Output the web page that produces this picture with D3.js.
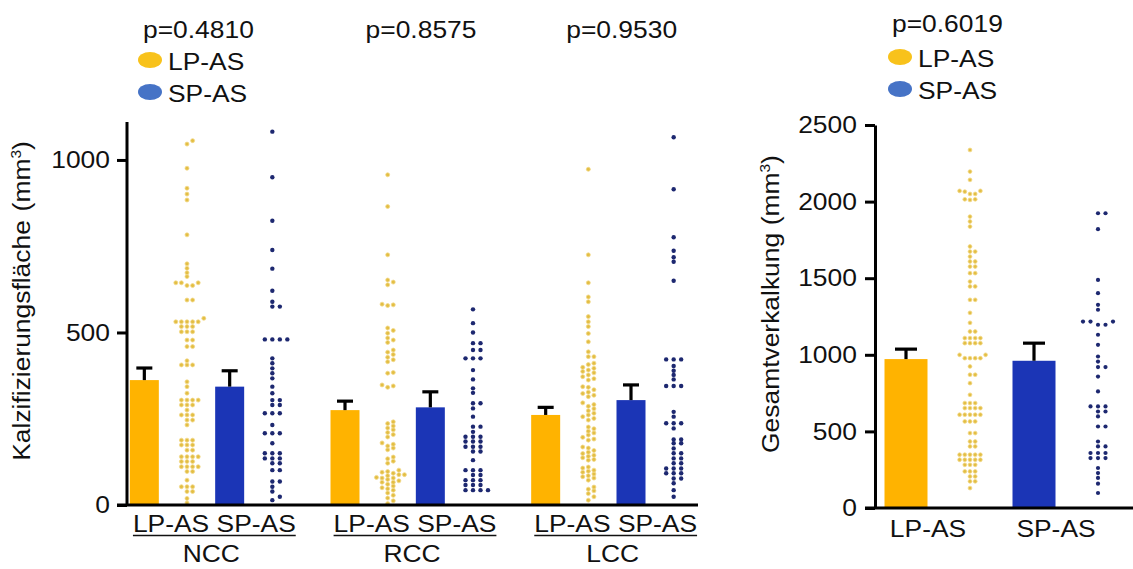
<!DOCTYPE html>
<html>
<head>
<meta charset="utf-8">
<script src="https://cdn.jsdelivr.net/npm/d3@7"></script>
<style>
  html,body{margin:0;padding:0;background:#fff;}
  svg{display:block;}
</style>
</head>
<body>
<svg id="svg" width="1133" height="569"></svg>
<script>
// ---- data ----
const groups = ["NCC","RCC","LCC"];
const series = ["LP-AS","SP-AS"];
const groupP = ["p=0.4810","p=0.8575","p=0.9530"];

// bar means and top of error bar (mm3), per group: [LP-AS, SP-AS]
const areaMean = [[362,343],[275,283],[261,304]];
const areaErrTop = [[397,389],[301,328],[283,348]];

const nccLP = [1056,1046,976,918,901,884,783,699,686,673,662,644,644,644,636,636,594,594,541,531,531,531,531,531,517,517,517,502,502,502,478,478,459,459,418,406,406,406,357,343,324,304,304,304,304,290,290,290,275,261,261,261,246,246,232,188,188,188,174,174,174,159,159,140,140,140,140,126,126,126,111,111,111,111,97,97,72,53,53,53,39,39,19,6];
const nccSP = [1082,950,824,739,685,621,589,575,575,480,480,480,480,425,411,396,382,367,343,324,304,304,290,290,266,266,266,232,208,208,208,179,150,150,150,135,135,135,121,121,101,101,68,68,53,39,24,14];
const rccLP = [957,865,725,652,646,638,582,580,578,513,506,498,484,478,471,449,443,436,428,421,415,384,382,348,345,341,241,236,229,223,218,210,204,197,180,176,171,165,160,139,134,127,121,101,97,95,92,88,88,85,80,78,78,74,70,66,66,60,55,50,47,43,35,28,20,12,4];
const rccSP = [567,527,500,469,469,449,449,425,425,425,391,364,338,325,295,295,280,256,227,227,212,198,198,198,184,184,184,169,169,169,155,155,130,101,101,101,87,87,72,72,72,58,58,58,43,43,43,43];
const lccLP = [973,725,644,603,589,546,531,517,497,473,444,430,430,411,407,399,396,391,387,383,377,372,366,362,343,341,334,327,323,318,314,296,291,286,279,273,266,261,256,251,246,226,221,214,209,203,196,191,188,168,165,158,153,149,144,141,137,132,130,110,107,101,98,95,90,85,82,78,72,52,46,41,33,24,14];
const lccSP = [1066,915,776,737,718,705,650,422,422,422,403,389,377,364,345,345,345,270,256,237,237,237,222,190,190,179,179,164,150,150,135,135,121,121,106,106,106,92,92,92,77,77,63,43,24];
const areaDots = [[nccLP,nccSP],[rccLP,rccSP],[lccLP,lccSP]];

// total calcification
const totalP = "p=0.6019";
const totalMean = [972,961];
const totalErrTop = [1037,1076];
const totLP = [2337,2196,2142,2070,2070,2065,2050,2050,2015,2015,2011,1902,1870,1837,1707,1674,1674,1641,1609,1609,1576,1576,1533,1533,1478,1446,1446,1359,1359,1274,1209,1152,1152,1109,1109,1109,1109,1076,1076,1076,1076,1000,1000,978,978,978,978,924,870,870,815,739,685,685,685,652,652,652,652,609,609,609,609,609,565,565,565,489,489,434,434,402,402,348,348,348,348,348,315,315,315,315,315,282,282,282,239,239,239,206,206,174,174,130];
const totSP = [1924,1924,1820,1489,1402,1326,1294,1217,1217,1217,1196,1196,1131,1065,989,956,920,920,858,761,663,663,663,630,630,598,532,532,434,402,402,359,359,359,326,326,326,261,228,196,159,98];
const totalDots = [totLP,totSP];

const areaTicks = [0,500,1000];
const totalTicks = [0,500,1000,1500,2000,2500];

// ---- styles ----
const FONT = "'Liberation Sans', Arial, sans-serif";
const FS = 24, SX = 1.1;
const barColor = {"LP-AS":"#FFB300","SP-AS":"#1B35B6"};
const dotColor = {"LP-AS":"#E3BE44","SP-AS":"#1D2870"};
const legColor = {"LP-AS":"#F8C21B","SP-AS":"#4673C6"};

const svg = d3.select("#svg");
svg.append("rect").attr("width",1133).attr("height",569).attr("fill","#fff");

// text that is slightly wider than the font (as in the figure)
function label(g, x, y, s, anchor){
  return g.append("text")
    .attr("transform", `translate(${x},${y}) scale(${SX},1)`)
    .attr("text-anchor", anchor||"start")
    .attr("font-family", FONT).attr("font-size", FS).attr("fill","#111")
    .text(s);
}

// simple column beeswarm: prefer the centre, step sideways on collision
function swarm(values, y, dx, dy){
  const placed = [];
  [...values].sort((a,b)=>a-b).forEach(v=>{
    const py = y(v);
    for(let i=0;i<30;i++){
      const k = i===0 ? 0 : (i%2 ? (i+1)/2 : -i/2);
      if(!placed.some(p=>p.k===k && Math.abs(p.y-py)<dy)){
        placed.push({v, k, x:k*dx, y:py});
        break;
      }
    }
  });
  return placed;
}

function legend(g, x, y){
  series.forEach((s,i)=>{
    const cy = y + i*32;
    g.append("ellipse").attr("cx",x).attr("cy",cy).attr("rx",12).attr("ry",8).attr("fill",legColor[s]);
    label(g, x+18, cy+10, s);
  });
}

function styleAxis(ax){
  ax.attr("font-family", FONT).attr("font-size", FS);
  ax.select(".domain").attr("stroke","#000").attr("stroke-width",3);
  ax.selectAll(".tick line").attr("stroke","#000").attr("stroke-width",3);
  ax.selectAll(".tick text").attr("fill","#111").attr("transform",`scale(${SX},1)`);
}

function errBar(g, x, yTop, yErr, half){
  g.append("line").attr("x1",x).attr("x2",x).attr("y1",yTop).attr("y2",yErr)
    .attr("stroke","#000").attr("stroke-width",3.2);
  g.append("line").attr("x1",x-half).attr("x2",x+half).attr("y1",yErr).attr("y2",yErr)
    .attr("stroke","#000").attr("stroke-width",3.2);
}

// ================= left panel =================
const gL = svg.append("g");
const yL = d3.scaleLinear().domain([0,1110]).range([505,122]);
const xG = d3.scaleBand().domain(groups).range([108,710]);
const xS = d3.scalePoint().domain(["LP-AS|bar","LP-AS|dots","SP-AS|bar","SP-AS|dots"]).range([-64,64]);
const gc = g => xG(g) + xG.bandwidth()/2;

groups.forEach((grp,gi)=>{
  series.forEach((s,si)=>{
    const bx = gc(grp) + xS(s+"|bar");
    gL.append("rect")
      .attr("x", bx-14.5).attr("width", 29)
      .attr("y", yL(areaMean[gi][si])).attr("height", yL(0)-yL(areaMean[gi][si]))
      .attr("fill", barColor[s]);
    errBar(gL, bx, yL(areaMean[gi][si]), yL(areaErrTop[gi][si]), 8);

    const dx0 = gc(grp) + xS(s+"|dots");
    const pts = swarm(areaDots[gi][si], yL, s==="LP-AS" ? 5.6 : 7.5, 3.6);
    gL.append("g").selectAll("circle").data(pts).enter().append("circle")
      .attr("cx", d=>dx0+d.x).attr("cy", d=>d.y)
      .attr("r", s==="LP-AS" ? 2.0 : 2.2)
      .attr("fill", dotColor[s])
      .attr("stroke", s==="LP-AS" ? "#F3D98A" : "none").attr("stroke-width",0.8);
  });

  // category labels with underline
  const t = label(gL, gc(grp)+6, 532, series.join(" "), "middle");
  const w = t.node().getComputedTextLength()*SX;
  gL.append("line").attr("x1",gc(grp)+6-w/2).attr("x2",gc(grp)+6+w/2)
    .attr("y1",535.5).attr("y2",535.5).attr("stroke","#111").attr("stroke-width",1.3);
  label(gL, gc(grp)+3, 562, grp, "middle");

  // p values
  if(gi===0) label(gL, 143, 38, groupP[gi]);
  else label(gL, gc(grp)+12, 38, groupP[gi], "middle");
});

gL.append("line").attr("x1",117).attr("x2",698).attr("y1",yL(0)).attr("y2",yL(0))
  .attr("stroke","#000").attr("stroke-width",3);
const axL = gL.append("g").attr("transform","translate(127,0)")
  .call(d3.axisLeft(yL).tickValues(areaTicks).tickFormat(d3.format("d"))
    .tickSize(10).tickPadding(5.5).tickSizeOuter(0));
styleAxis(axL);
axL.select(".domain").attr("d", `M0,${yL(0)}V122`);

const yt1 = gL.append("text").attr("transform","translate(30,301) rotate(-90) scale(1.1,1)")
  .attr("text-anchor","middle").attr("font-family",FONT).attr("font-size",FS).attr("fill","#111");
yt1.append("tspan").text("Kalzifizierungsfläche");
yt1.append("tspan").attr("dx",8).text("(mm");
yt1.append("tspan").attr("font-size",14).attr("dy",-9).text("3");
yt1.append("tspan").attr("dy",9).text(")");

legend(gL, 150, 60);

// ================= right panel =================
const gR = svg.append("g");
const yR = d3.scaleLinear().domain([0,2500]).range([508,125]);
const xR = d3.scalePoint().domain(["LP-AS|bar","LP-AS|dots","SP-AS|bar","SP-AS|dots"]).range([906,1098]);

series.forEach((s,si)=>{
  const bx = xR(s+"|bar");
  gR.append("rect")
    .attr("x", bx-21.5).attr("width", 43)
    .attr("y", yR(totalMean[si])).attr("height", yR(0)-yR(totalMean[si]))
    .attr("fill", barColor[s]);
  errBar(gR, bx, yR(totalMean[si]), yR(totalErrTop[si]), 11);

  const pts = swarm(totalDots[si], yR, s==="LP-AS" ? 5.2 : 7.5, 3.6);
  gR.append("g").selectAll("circle").data(pts).enter().append("circle")
    .attr("cx", d=>xR(s+"|dots")+d.x).attr("cy", d=>d.y)
    .attr("r", s==="LP-AS" ? 1.9 : 2.1)
    .attr("fill", dotColor[s])
    .attr("stroke", s==="LP-AS" ? "#F3D98A" : "none").attr("stroke-width",0.8);

  label(gR, bx+22, 537, s, "middle");
});

gR.append("line").attr("x1",865).attr("x2",1133).attr("y1",yR(0)).attr("y2",yR(0))
  .attr("stroke","#000").attr("stroke-width",3);
const axR = gR.append("g").attr("transform","translate(875,0)")
  .call(d3.axisLeft(yR).tickValues(totalTicks).tickFormat(d3.format("d"))
    .tickSize(10).tickPadding(6.5).tickSizeOuter(0));
styleAxis(axR);

const yt2 = gR.append("text").attr("transform","translate(779,304) rotate(-90) scale(1.1,1)")
  .attr("text-anchor","middle").attr("font-family",FONT).attr("font-size",FS).attr("fill","#111");
yt2.append("tspan").text("Gesamtverkalkung");
yt2.append("tspan").attr("dx",7).text("(mm");
yt2.append("tspan").attr("font-size",14).attr("dy",-9).text("3");
yt2.append("tspan").attr("dy",9).text(")");

label(gR, 892, 32, totalP);
legend(gR, 900, 57);
</script>
</body>
</html>
